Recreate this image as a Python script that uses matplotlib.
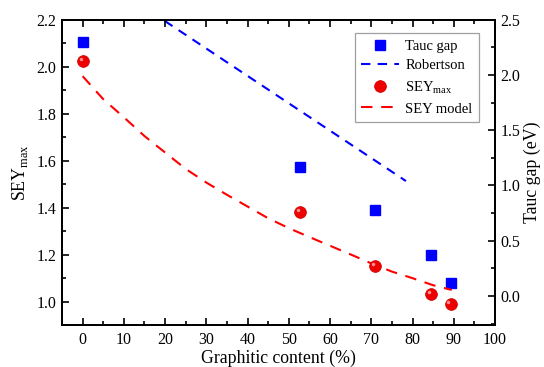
import matplotlib
matplotlib.use('Agg')
import matplotlib.pyplot as plt
from matplotlib.ticker import MultipleLocator
from matplotlib.transforms import offset_copy

plt.rcParams['font.family'] = ['Liberation Serif', 'DejaVu Serif']
plt.rcParams['mathtext.fontset'] = 'custom'
plt.rcParams['mathtext.rm'] = 'Liberation Serif'

# 数据
tauc_x = [0, 52.8, 70.9, 84.5, 89.2]
tauc_gap = [2.30, 1.165, 0.78, 0.37, 0.12]

sey_x = [0, 52.8, 70.9, 84.5, 89.2]
sey_max = [2.025, 1.38, 1.15, 1.033, 0.99]

robertson_x = [19.9, 78.4]
robertson_gap = [2.49, 1.04]

model_x = [0, 5, 10, 15, 20, 25, 30, 35, 40, 45, 50, 55, 60, 65, 70, 75, 80, 85, 89.5]
model_sey = [1.96, 1.862, 1.785, 1.705, 1.635, 1.565, 1.507, 1.455, 1.405, 1.355,
             1.313, 1.275, 1.238, 1.201, 1.163, 1.128, 1.10, 1.07, 1.05]

fig = plt.figure(figsize=(5.44, 3.67), dpi=100)
ax = fig.add_axes([0.114, 0.114, 0.796, 0.832])
ax2 = ax.twinx()

# SEY 模型 (左轴)
l_model, = ax.plot(model_x, model_sey, color='#ff0000', lw=1.5,
                   dashes=(5.5, 4.2), zorder=2)
# SEY max 红色球
l_sey, = ax.plot(sey_x, sey_max, 'o', color='#ee0000', ms=8.5,
                 mec='#cc0000', mew=0.5, zorder=4, linestyle='none')
hl = offset_copy(ax.transData, fig=fig, x=-1.5, y=1.5, units='points')
ax.plot(sey_x, sey_max, 'o', color='#ff9090', ms=2.5, mew=0,
        transform=hl, zorder=5)

# Tauc gap (右轴)
l_rob, = ax2.plot(robertson_x, robertson_gap, color='#0000ff', lw=1.5,
                  dashes=(4.5, 3.5), zorder=2)
l_tauc, = ax2.plot(tauc_x, tauc_gap, 's', color='#0000ff', ms=6.8,
                   linestyle='none', zorder=4)

ax.set_xlim(-5, 100)
ax.set_ylim(0.9, 2.2)
ax2.set_ylim(-0.265, 2.5)

ax.xaxis.set_major_locator(MultipleLocator(10))
ax.xaxis.set_minor_locator(MultipleLocator(5))
ax.yaxis.set_major_locator(MultipleLocator(0.2))
ax.yaxis.set_minor_locator(MultipleLocator(0.1))
ax2.yaxis.set_major_locator(MultipleLocator(0.5))
ax2.yaxis.set_minor_locator(MultipleLocator(0.25))
ax.yaxis.set_major_formatter(plt.FormatStrFormatter('%.1f'))
ax2.yaxis.set_major_formatter(plt.FormatStrFormatter('%.1f'))

ax.tick_params(axis='x', which='both', direction='in', top=True, labelsize=11.5, pad=5)
ax.tick_params(axis='y', which='both', direction='in', labelsize=11.5, pad=4)
ax2.tick_params(axis='y', which='both', direction='in', labelsize=11.5, pad=4)
for a in (ax, ax2):
    a.tick_params(which='major', length=5, width=1.2)
    a.tick_params(which='minor', length=3, width=1.2)
    for s in a.spines.values():
        s.set_linewidth(1.4)

ax.set_xlabel('Graphitic content (%)', fontsize=12.8, labelpad=1)
ax.set_ylabel(r'SEY$_{\mathregular{max}}$', fontsize=12.8, labelpad=5)
ax2.set_ylabel('Tauc gap (eV)', fontsize=12.8, labelpad=2)

leg = ax.legend([l_tauc, l_rob, l_sey, l_model],
                ['Tauc gap', 'Robertson', r'SEY$_{\mathregular{max}}$', 'SEY model'],
                loc='upper right', bbox_to_anchor=(0.963, 0.957),
                fontsize=10.5, frameon=True, fancybox=False,
                handlelength=2.6, handletextpad=0.4, labelspacing=0.45,
                borderpad=0.45, borderaxespad=0)
leg.get_frame().set_edgecolor('#888888')
leg.get_frame().set_linewidth(0.9)
leg.set_zorder(10)
ax.set_zorder(ax2.get_zorder() + 1)
ax.patch.set_visible(False)

fig.savefig('out.png', dpi=100)
